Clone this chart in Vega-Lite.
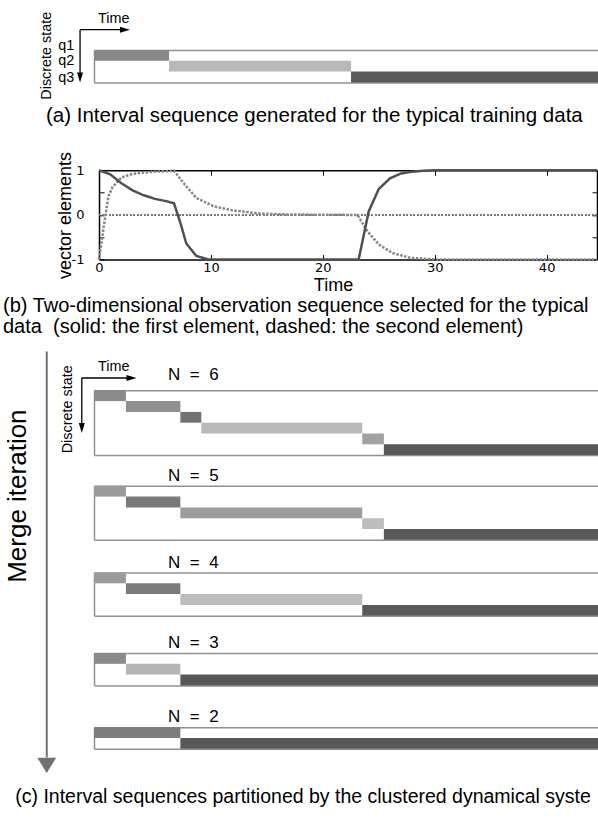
{
  "$schema": "https://vega.github.io/schema/vega-lite/v6.json",
  "background": "white",
  "padding": {"left": 3, "top": 11, "right": 0, "bottom": 0},
  "config": {
    "view": {"stroke": null},
    "font": "Liberation Sans",
    "title": {"font": "Liberation Sans", "fontWeight": "normal", "color": "black"},
    "text": {"font": "Liberation Sans", "color": "black"}
  },
  "datasets": {
    "seqA": [
      {"state": "q1", "start": 0, "end": 6.7},
      {"state": "q2", "start": 6.7, "end": 22.95},
      {"state": "q3", "start": 22.95, "end": 45}
    ],
    "seq": [
      {"N": 6, "state": "s1", "start": 0, "end": 2.85},
      {"N": 6, "state": "s2", "start": 2.85, "end": 7.71},
      {"N": 6, "state": "s3", "start": 7.71, "end": 9.58},
      {"N": 6, "state": "s4", "start": 9.58, "end": 23.95},
      {"N": 6, "state": "s5", "start": 23.95, "end": 25.88},
      {"N": 6, "state": "s6", "start": 25.88, "end": 45},
      {"N": 5, "state": "s1", "start": 0, "end": 2.85},
      {"N": 5, "state": "s2", "start": 2.85, "end": 7.71},
      {"N": 5, "state": "s3", "start": 7.71, "end": 23.95},
      {"N": 5, "state": "s4", "start": 23.95, "end": 25.88},
      {"N": 5, "state": "s5", "start": 25.88, "end": 45},
      {"N": 4, "state": "s1", "start": 0, "end": 2.85},
      {"N": 4, "state": "s2", "start": 2.85, "end": 7.71},
      {"N": 4, "state": "s3", "start": 7.71, "end": 23.95},
      {"N": 4, "state": "s4", "start": 23.95, "end": 45},
      {"N": 3, "state": "s1", "start": 0, "end": 2.85},
      {"N": 3, "state": "s2", "start": 2.85, "end": 7.71},
      {"N": 3, "state": "s3", "start": 7.71, "end": 45},
      {"N": 2, "state": "s1", "start": 0, "end": 7.71},
      {"N": 2, "state": "s2", "start": 7.71, "end": 45}
    ],
    "lines": [
      {"element": "first", "t": 0, "v": 1.0},
      {"element": "first", "t": 1, "v": 0.91},
      {"element": "first", "t": 2, "v": 0.71},
      {"element": "first", "t": 3, "v": 0.55},
      {"element": "first", "t": 4, "v": 0.44},
      {"element": "first", "t": 5, "v": 0.36},
      {"element": "first", "t": 6, "v": 0.31},
      {"element": "first", "t": 6.7, "v": 0.26},
      {"element": "first", "t": 7.3, "v": -0.2},
      {"element": "first", "t": 7.8, "v": -0.64},
      {"element": "first", "t": 8.7, "v": -0.92},
      {"element": "first", "t": 9.7, "v": -0.99},
      {"element": "first", "t": 11, "v": -1},
      {"element": "first", "t": 23.2, "v": -1},
      {"element": "first", "t": 24.1, "v": 0.08},
      {"element": "first", "t": 25, "v": 0.58},
      {"element": "first", "t": 26, "v": 0.82},
      {"element": "first", "t": 27, "v": 0.93},
      {"element": "first", "t": 28, "v": 0.97},
      {"element": "first", "t": 29, "v": 0.99},
      {"element": "first", "t": 30, "v": 1},
      {"element": "first", "t": 44.5, "v": 1},
      {"element": "second", "t": 0, "v": -1},
      {"element": "second", "t": 0.4, "v": -0.3},
      {"element": "second", "t": 0.85, "v": 0.42},
      {"element": "second", "t": 1.2, "v": 0.62},
      {"element": "second", "t": 2, "v": 0.84},
      {"element": "second", "t": 3, "v": 0.92},
      {"element": "second", "t": 4, "v": 0.95},
      {"element": "second", "t": 5, "v": 0.97},
      {"element": "second", "t": 6, "v": 0.98},
      {"element": "second", "t": 6.7, "v": 0.99},
      {"element": "second", "t": 7.8, "v": 0.64},
      {"element": "second", "t": 8.7, "v": 0.38},
      {"element": "second", "t": 10.3, "v": 0.19},
      {"element": "second", "t": 12, "v": 0.1},
      {"element": "second", "t": 14.4, "v": 0.03},
      {"element": "second", "t": 17, "v": 0.01},
      {"element": "second", "t": 23.1, "v": 0.0},
      {"element": "second", "t": 24, "v": -0.37},
      {"element": "second", "t": 25, "v": -0.66},
      {"element": "second", "t": 26.2, "v": -0.85},
      {"element": "second", "t": 27.8, "v": -0.96},
      {"element": "second", "t": 30, "v": -0.995},
      {"element": "second", "t": 44.5, "v": -1}
    ]
  },
  "bounds": "flush",
  "spacing": 87.3,
  "resolve": {"scale": {"color": "independent"}},
  "vconcat": [
    {
      "width": 504,
      "height": 32.4,
      "title": {"text": "(a) Interval sequence generated for the typical training data", "orient": "bottom", "anchor": "start", "frame": "group", "baseline": "alphabetic", "dx": -48, "offset": 22, "fontSize": 20.5},
      "resolve": {"scale": {"y": "independent"}, "axis": {"x": "independent", "y": "independent"}},
      "layer": [
        {
          "data": {"name": "seqA"},
          "mark": {"type": "bar"},
          "encoding": {
            "x": {"field": "start", "type": "quantitative", "scale": {"domain": [0, 45], "nice": false, "zero": false}, "axis": {"orient": "bottom", "domainColor": "#909090", "domainWidth": 1.5, "ticks": false, "labels": false, "grid": false, "title": null}},
            "x2": {"field": "end"},
            "y": {"field": "state", "type": "ordinal", "scale": {"domain": ["q1", "q2", "q3"], "paddingInner": 0, "paddingOuter": 0}, "axis": {"orient": "left", "domainColor": "#909090", "domainWidth": 1.5, "ticks": false, "labels": false, "title": null, "grid": false}},
            "color": {"field": "state", "type": "nominal", "scale": {"domain": ["q1", "q2", "q3"], "range": ["#888888", "#b8b8b8", "#595959"]}, "legend": null}
          }
        },
        {
          "data": {"values": [{"label": "Time"}]},
          "layer": [
            {"mark": {"type": "text", "align": "left", "baseline": "alphabetic", "fontSize": 14.4},
             "encoding": {"text": {"field": "label"},
               "x": {"datum": 0.36, "scale": {"domain": [0, 45], "nice": false, "zero": false}, "axis": {"orient": "top", "domainColor": "#909090", "domainWidth": 1.5, "ticks": false, "labels": false, "grid": false, "title": null}},
               "y": {"datum": -2.46, "scale": {"domain": [0, 3], "reverse": true, "nice": false, "zero": false}, "axis": null}}},
            {"mark": {"type": "rule", "color": "black", "strokeWidth": 1.3},
             "encoding": {"x": {"datum": -1.245, "scale": {"domain": [0, 45], "nice": false, "zero": false}}, "x2": {"datum": 2.45},
               "y": {"datum": -1.88, "scale": {"domain": [0, 3], "reverse": true, "nice": false, "zero": false}}}},
            {"mark": {"type": "point", "shape": "M-1,-0.6L1,0L-1,0.6Z", "filled": true, "color": "black", "opacity": 1, "strokeWidth": 0, "size": 100},
             "encoding": {"x": {"datum": 2.76, "scale": {"domain": [0, 45], "nice": false, "zero": false}},
               "y": {"datum": -1.88, "scale": {"domain": [0, 3], "reverse": true, "nice": false, "zero": false}}}},
            {"mark": {"type": "rule", "color": "black", "strokeWidth": 1.3},
             "encoding": {"x": {"datum": -1.245, "scale": {"domain": [0, 45], "nice": false, "zero": false}},
               "y": {"datum": -1.88, "scale": {"domain": [0, 3], "reverse": true, "nice": false, "zero": false}}, "y2": {"datum": 2.2}}},
            {"mark": {"type": "point", "shape": "M-0.6,-1L0.6,-1L0,1Z", "filled": true, "color": "black", "opacity": 1, "strokeWidth": 0, "size": 100},
             "encoding": {"x": {"datum": -1.245, "scale": {"domain": [0, 45], "nice": false, "zero": false}},
               "y": {"datum": 2.54, "scale": {"domain": [0, 3], "reverse": true, "nice": false, "zero": false}}}},
            {"mark": {"type": "text", "text": "Discrete state", "angle": 270, "align": "center", "baseline": "middle", "fontSize": 14.4},
             "encoding": {"x": {"datum": -4.2, "scale": {"domain": [0, 45], "nice": false, "zero": false}},
               "y": {"datum": 0.53, "scale": {"domain": [0, 3], "reverse": true, "nice": false, "zero": false}}}},
            {"mark": {"type": "text", "text": "q1", "align": "left", "baseline": "middle", "fontSize": 14.4},
             "encoding": {"x": {"datum": -3.2, "scale": {"domain": [0, 45], "nice": false, "zero": false}},
               "y": {"datum": -0.4, "scale": {"domain": [0, 3], "reverse": true, "nice": false, "zero": false}}}},
            {"mark": {"type": "text", "text": "q2", "align": "left", "baseline": "middle", "fontSize": 14.4},
             "encoding": {"x": {"datum": -3.2, "scale": {"domain": [0, 45], "nice": false, "zero": false}},
               "y": {"datum": 1.06, "scale": {"domain": [0, 3], "reverse": true, "nice": false, "zero": false}}}},
            {"mark": {"type": "text", "text": "q3", "align": "left", "baseline": "middle", "fontSize": 14.4},
             "encoding": {"x": {"datum": -3.2, "scale": {"domain": [0, 45], "nice": false, "zero": false}},
               "y": {"datum": 2.61, "scale": {"domain": [0, 3], "reverse": true, "nice": false, "zero": false}}}}
          ]
        }
      ]
    },
    {
      "bounds": "flush",
      "spacing": 220,
      "resolve": {"scale": {"color": "independent"}},
      "vconcat": [
        {
          "bounds": "flush",
          "spacing": 0,
          "hconcat": [
            {"width": 5, "height": 89.3, "data": {"values": []}, "mark": {"type": "rule"}, "encoding": {}},
            {
              "width": 498,
              "height": 89.3,
              "data": {"name": "lines"},
              "title": {"text": ["(b) Two-dimensional observation sequence selected for the typical", "data\u00a0\u00a0(solid: the first element, dashed: the second element)"], "orient": "bottom", "anchor": "start", "frame": "group", "baseline": "alphabetic", "dx": -96, "offset": 17.5, "fontSize": 20, "lineHeight": 21},
              "resolve": {"axis": {"x": "independent", "y": "independent"}},
              "layer": [
                {"mark": {"type": "rule", "color": "#7a7a7a", "strokeDash": [1.5, 2], "strokeWidth": 1},
                 "encoding": {"y": {"datum": 0, "scale": {"domain": [-1, 1], "nice": false, "zero": false}, "axis": null}}},
                {"transform": [{"filter": "datum.element == 'second'"}],
                 "mark": {"type": "line", "color": "#858585", "strokeWidth": 2.5, "strokeDash": [2.5, 1.5]},
                 "encoding": {
                   "x": {"field": "t", "type": "quantitative", "scale": {"domain": [0, 44.5], "nice": false, "zero": false}, "axis": {"orient": "top", "values": [0, 10, 20, 30, 40], "tickSize": -5, "tickColor": "black", "domainColor": "black", "domainWidth": 1.5, "labels": false, "grid": false, "title": null}},
                   "y": {"field": "v", "type": "quantitative", "scale": {"domain": [-1, 1], "nice": false, "zero": false}, "axis": {"orient": "right", "values": [-1, -0.5, 0, 0.5, 1], "tickSize": -5, "tickColor": "black", "domainColor": "black", "domainWidth": 1.5, "labels": false, "grid": false, "title": null}}
                 }},
                {"transform": [{"filter": "datum.element == 'first'"}],
                 "mark": {"type": "line", "color": "#505050", "strokeWidth": 2.5},
                 "encoding": {
                   "x": {"field": "t", "type": "quantitative", "scale": {"domain": [0, 44.5], "nice": false, "zero": false}, "axis": {"orient": "bottom", "values": [0, 10, 20, 30, 40], "format": "d", "tickSize": -5, "tickColor": "black", "domainColor": "black", "domainWidth": 1.5, "labelPadding": 7, "labelFont": "DejaVu Sans", "labelFontSize": 13, "labelColor": "black", "labelFlush": false, "labelOverlap": false, "grid": false, "title": "Time", "titleFont": "Liberation Sans", "titleFontSize": 18, "titleFontWeight": "normal", "titleColor": "black", "titleX": 234, "titleY": 30.5, "titleAlign": "center", "titleBaseline": "alphabetic"}},
                   "y": {"field": "v", "type": "quantitative", "scale": {"domain": [-1, 1], "nice": false, "zero": false}, "axis": {"orient": "left", "values": [-1, -0.5, 0, 0.5, 1], "labelExpr": "datum.value == 1 ? '1' : datum.value == 0 ? '0' : datum.value == -1 ? '-1' : ''", "tickSize": -5, "tickColor": "black", "domainColor": "black", "domainWidth": 1.5, "labelPadding": 20, "labelFont": "DejaVu Sans", "labelFontSize": 13, "labelColor": "black", "labelFlush": false, "labelOverlap": false, "grid": false, "title": "vector elements", "titleFont": "Liberation Sans", "titleFontSize": 18, "titleFontWeight": "normal", "titleColor": "black", "titleX": -34, "titleY": 44.65, "titleAngle": 270, "titleAlign": "center", "titleBaseline": "middle"}}
                 }}
              ]
            }
          ]
        },
        {
          "bounds": "flush",
          "spacing": 30.5,
          "resolve": {"scale": {"color": "independent"}},
          "vconcat": [
            {
              "width": 504,
              "height": 64.8,
              "resolve": {"scale": {"y": "independent"}, "axis": {"x": "independent", "y": "independent"}},
              "layer": [
                {
                  "data": {"name": "seq"},
                  "transform": [{"filter": "datum.N == 6"}],
                  "mark": {"type": "bar"},
                  "encoding": {
                    "x": {"field": "start", "type": "quantitative", "scale": {"domain": [0, 45], "nice": false, "zero": false}, "axis": {"orient": "bottom", "domainColor": "#909090", "domainWidth": 1.5, "ticks": false, "labels": false, "grid": false, "title": null}},
                    "x2": {"field": "end"},
                    "y": {"field": "state", "type": "ordinal", "scale": {"domain": ["s1", "s2", "s3", "s4", "s5", "s6"], "paddingInner": 0, "paddingOuter": 0}, "axis": {"orient": "left", "domainColor": "#909090", "domainWidth": 1.5, "ticks": false, "labels": false, "title": null, "grid": false}},
                    "color": {"field": "state", "type": "nominal", "scale": {"domain": ["s1", "s2", "s3", "s4", "s5", "s6"], "range": ["#8a8a8a", "#909090", "#727272", "#b9b9b9", "#a2a2a2", "#595959"]}, "legend": null}
                  }
                },
                {
                  "data": {"values": [{"label": "N\u00a0\u00a0=\u00a0\u00a06"}]},
                  "layer": [
                    {"mark": {"type": "text", "align": "left", "baseline": "alphabetic", "fontSize": 17},
                     "encoding": {"text": {"field": "label"},
                       "x": {"datum": 6.61, "scale": {"domain": [0, 45], "nice": false, "zero": false}, "axis": {"orient": "top", "domainColor": "#909090", "domainWidth": 1.5, "ticks": false, "labels": false, "grid": false, "title": null}},
                       "y": {"datum": -1.0, "scale": {"domain": [0, 6], "reverse": true, "nice": false, "zero": false}, "axis": null}}},
                    {"mark": {"type": "text", "text": "Time", "align": "left", "baseline": "alphabetic", "fontSize": 14.4},
                     "encoding": {"x": {"datum": 0.36, "scale": {"domain": [0, 45], "nice": false, "zero": false}},
                       "y": {"datum": -1.76, "scale": {"domain": [0, 6], "reverse": true, "nice": false, "zero": false}}}},
                    {"mark": {"type": "rule", "color": "black", "strokeWidth": 1.3},
                     "encoding": {"x": {"datum": -1.09, "scale": {"domain": [0, 45], "nice": false, "zero": false}}, "x2": {"datum": 3.0},
                       "y": {"datum": -1.14, "scale": {"domain": [0, 6], "reverse": true, "nice": false, "zero": false}}}},
                    {"mark": {"type": "point", "shape": "M-1,-0.6L1,0L-1,0.6Z", "filled": true, "color": "black", "opacity": 1, "strokeWidth": 0, "size": 100},
                     "encoding": {"x": {"datum": 3.35, "scale": {"domain": [0, 45], "nice": false, "zero": false}},
                       "y": {"datum": -1.14, "scale": {"domain": [0, 6], "reverse": true, "nice": false, "zero": false}}}},
                    {"mark": {"type": "rule", "color": "black", "strokeWidth": 1.3},
                     "encoding": {"x": {"datum": -1.09, "scale": {"domain": [0, 45], "nice": false, "zero": false}},
                       "y": {"datum": -1.14, "scale": {"domain": [0, 6], "reverse": true, "nice": false, "zero": false}}, "y2": {"datum": 3.2}}},
                    {"mark": {"type": "point", "shape": "M-0.6,-1L0.6,-1L0,1Z", "filled": true, "color": "black", "opacity": 1, "strokeWidth": 0, "size": 100},
                     "encoding": {"x": {"datum": -1.09, "scale": {"domain": [0, 45], "nice": false, "zero": false}},
                       "y": {"datum": 3.49, "scale": {"domain": [0, 6], "reverse": true, "nice": false, "zero": false}}}},
                    {"mark": {"type": "text", "text": "Discrete state", "angle": 270, "align": "center", "baseline": "middle", "fontSize": 14.4},
                     "encoding": {"x": {"datum": -2.31, "scale": {"domain": [0, 45], "nice": false, "zero": false}},
                       "y": {"datum": 1.76, "scale": {"domain": [0, 6], "reverse": true, "nice": false, "zero": false}}}},
                    {"mark": {"type": "rule", "color": "#707070", "strokeWidth": 2},
                     "encoding": {"x": {"datum": -4.22, "scale": {"domain": [0, 45], "nice": false, "zero": false}},
                       "y": {"datum": -3.6, "scale": {"domain": [0, 6], "reverse": true, "nice": false, "zero": false}}, "y2": {"datum": 34.0}}},
                    {"mark": {"type": "point", "shape": "M-1,-0.8L1,-0.8L0,0.8Z", "filled": true, "color": "#707070", "opacity": 1, "strokeWidth": 0, "size": 361},
                     "encoding": {"x": {"datum": -4.22, "scale": {"domain": [0, 45], "nice": false, "zero": false}},
                       "y": {"datum": 34.72, "scale": {"domain": [0, 6], "reverse": true, "nice": false, "zero": false}}}},
                    {"mark": {"type": "text", "text": "Merge iteration", "angle": 270, "align": "center", "baseline": "middle", "fontSize": 26},
                     "encoding": {"x": {"datum": -6.76, "scale": {"domain": [0, 45], "nice": false, "zero": false}},
                       "y": {"datum": 9.8, "scale": {"domain": [0, 6], "reverse": true, "nice": false, "zero": false}}}}
                  ]
                }
              ]
            },
            {
              "bounds": "flush",
              "spacing": 32.7,
              "resolve": {"scale": {"color": "independent"}},
              "vconcat": [
                {
                  "width": 504,
                  "height": 54,
                  "resolve": {"scale": {"y": "independent"}, "axis": {"x": "independent", "y": "independent"}},
                  "layer": [
                    {
                      "data": {"name": "seq"},
                      "transform": [{"filter": "datum.N == 5"}],
                      "mark": {"type": "bar"},
                      "encoding": {
                        "x": {"field": "start", "type": "quantitative", "scale": {"domain": [0, 45], "nice": false, "zero": false}, "axis": {"orient": "bottom", "domainColor": "#909090", "domainWidth": 1.5, "ticks": false, "labels": false, "grid": false, "title": null}},
                        "x2": {"field": "end"},
                        "y": {"field": "state", "type": "ordinal", "scale": {"domain": ["s1", "s2", "s3", "s4", "s5"], "paddingInner": 0, "paddingOuter": 0}, "axis": {"orient": "left", "domainColor": "#909090", "domainWidth": 1.5, "ticks": false, "labels": false, "title": null, "grid": false}},
                        "color": {"field": "state", "type": "nominal", "scale": {"domain": ["s1", "s2", "s3", "s4", "s5"], "range": ["#9b9b9b", "#7a7a7a", "#9c9c9c", "#bdbdbd", "#595959"]}, "legend": null}
                      }
                    },
                    {
                      "data": {"values": [{"label": "N\u00a0\u00a0=\u00a0\u00a05"}]},
                      "mark": {"type": "text", "align": "left", "baseline": "alphabetic", "fontSize": 17},
                      "encoding": {"text": {"field": "label"},
                        "x": {"datum": 6.61, "scale": {"domain": [0, 45], "nice": false, "zero": false}, "axis": {"orient": "top", "domainColor": "#909090", "domainWidth": 1.5, "ticks": false, "labels": false, "grid": false, "title": null}},
                        "y": {"datum": -0.46, "scale": {"domain": [0, 5], "reverse": true, "nice": false, "zero": false}, "axis": null}}
                    }
                  ]
                },
                {
                  "bounds": "flush",
                  "spacing": 36.5,
                  "resolve": {"scale": {"color": "independent"}},
                  "vconcat": [
                    {
                      "width": 504,
                      "height": 43.2,
                      "resolve": {"scale": {"y": "independent"}, "axis": {"x": "independent", "y": "independent"}},
                      "layer": [
                        {
                          "data": {"name": "seq"},
                          "transform": [{"filter": "datum.N == 4"}],
                          "mark": {"type": "bar"},
                          "encoding": {
                            "x": {"field": "start", "type": "quantitative", "scale": {"domain": [0, 45], "nice": false, "zero": false}, "axis": {"orient": "bottom", "domainColor": "#909090", "domainWidth": 1.5, "ticks": false, "labels": false, "grid": false, "title": null}},
                            "x2": {"field": "end"},
                            "y": {"field": "state", "type": "ordinal", "scale": {"domain": ["s1", "s2", "s3", "s4"], "paddingInner": 0, "paddingOuter": 0}, "axis": {"orient": "left", "domainColor": "#909090", "domainWidth": 1.5, "ticks": false, "labels": false, "title": null, "grid": false}},
                            "color": {"field": "state", "type": "nominal", "scale": {"domain": ["s1", "s2", "s3", "s4"], "range": ["#9b9b9b", "#7a7a7a", "#bdbdbd", "#595959"]}, "legend": null}
                          }
                        },
                        {
                          "data": {"values": [{"label": "N\u00a0\u00a0=\u00a0\u00a04"}]},
                          "mark": {"type": "text", "align": "left", "baseline": "alphabetic", "fontSize": 17},
                          "encoding": {"text": {"field": "label"},
                            "x": {"datum": 6.61, "scale": {"domain": [0, 45], "nice": false, "zero": false}, "axis": {"orient": "top", "domainColor": "#909090", "domainWidth": 1.5, "ticks": false, "labels": false, "grid": false, "title": null}},
                            "y": {"datum": -0.46, "scale": {"domain": [0, 4], "reverse": true, "nice": false, "zero": false}, "axis": null}}
                        }
                      ]
                    },
                    {
                      "bounds": "flush",
                      "spacing": 41.2,
                      "resolve": {"scale": {"color": "independent"}},
                      "vconcat": [
                        {
                          "width": 504,
                          "height": 32.4,
                          "resolve": {"scale": {"y": "independent"}, "axis": {"x": "independent", "y": "independent"}},
                          "layer": [
                            {
                              "data": {"name": "seq"},
                              "transform": [{"filter": "datum.N == 3"}],
                              "mark": {"type": "bar"},
                              "encoding": {
                                "x": {"field": "start", "type": "quantitative", "scale": {"domain": [0, 45], "nice": false, "zero": false}, "axis": {"orient": "bottom", "domainColor": "#909090", "domainWidth": 1.5, "ticks": false, "labels": false, "grid": false, "title": null}},
                                "x2": {"field": "end"},
                                "y": {"field": "state", "type": "ordinal", "scale": {"domain": ["s1", "s2", "s3"], "paddingInner": 0, "paddingOuter": 0}, "axis": {"orient": "left", "domainColor": "#909090", "domainWidth": 1.5, "ticks": false, "labels": false, "title": null, "grid": false}},
                                "color": {"field": "state", "type": "nominal", "scale": {"domain": ["s1", "s2", "s3"], "range": ["#8a8a8a", "#b5b5b5", "#595959"]}, "legend": null}
                              }
                            },
                            {
                              "data": {"values": [{"label": "N\u00a0\u00a0=\u00a0\u00a03"}]},
                              "mark": {"type": "text", "align": "left", "baseline": "alphabetic", "fontSize": 17},
                              "encoding": {"text": {"field": "label"},
                                "x": {"datum": 6.61, "scale": {"domain": [0, 45], "nice": false, "zero": false}, "axis": {"orient": "top", "domainColor": "#909090", "domainWidth": 1.5, "ticks": false, "labels": false, "grid": false, "title": null}},
                                "y": {"datum": -0.46, "scale": {"domain": [0, 3], "reverse": true, "nice": false, "zero": false}, "axis": null}}
                            }
                          ]
                        },
                        {
                          "width": 504,
                          "height": 21.6,
                          "resolve": {"scale": {"y": "independent"}, "axis": {"x": "independent", "y": "independent"}},
                          "layer": [
                            {
                              "data": {"name": "seq"},
                              "transform": [{"filter": "datum.N == 2"}],
                              "mark": {"type": "bar"},
                              "encoding": {
                                "x": {"field": "start", "type": "quantitative", "scale": {"domain": [0, 45], "nice": false, "zero": false}, "axis": {"orient": "bottom", "domainColor": "#909090", "domainWidth": 1.5, "ticks": false, "labels": false, "grid": false, "title": null}},
                                "x2": {"field": "end"},
                                "y": {"field": "state", "type": "ordinal", "scale": {"domain": ["s1", "s2"], "paddingInner": 0, "paddingOuter": 0}, "axis": {"orient": "left", "domainColor": "#909090", "domainWidth": 1.5, "ticks": false, "labels": false, "title": null, "grid": false}},
                                "color": {"field": "state", "type": "nominal", "scale": {"domain": ["s1", "s2"], "range": ["#7d7d7d", "#595959"]}, "legend": null}
                              }
                            },
                            {
                              "data": {"values": [{"label": "N\u00a0\u00a0=\u00a0\u00a02", "caption": "(c) Interval sequences partitioned by the clustered dynamical systems"}]},
                              "layer": [
                                {"mark": {"type": "text", "align": "left", "baseline": "alphabetic", "fontSize": 17},
                                 "encoding": {"text": {"field": "label"},
                                   "x": {"datum": 6.61, "scale": {"domain": [0, 45], "nice": false, "zero": false}, "axis": {"orient": "top", "domainColor": "#909090", "domainWidth": 1.5, "ticks": false, "labels": false, "grid": false, "title": null}},
                                   "y": {"datum": -0.46, "scale": {"domain": [0, 2], "reverse": true, "nice": false, "zero": false}, "axis": null}}},
                                {"mark": {"type": "text", "align": "left", "baseline": "alphabetic", "fontSize": 19.5, "limit": 583, "ellipsis": " "},
                                 "encoding": {"text": {"field": "caption"},
                                   "x": {"datum": -7.03, "scale": {"domain": [0, 45], "nice": false, "zero": false}},
                                   "y": {"datum": 7.0, "scale": {"domain": [0, 2], "reverse": true, "nice": false, "zero": false}}}}
                              ]
                            }
                          ]
                        }
                      ]
                    }
                  ]
                }
              ]
            }
          ]
        }
      ]
    }
  ]
}
